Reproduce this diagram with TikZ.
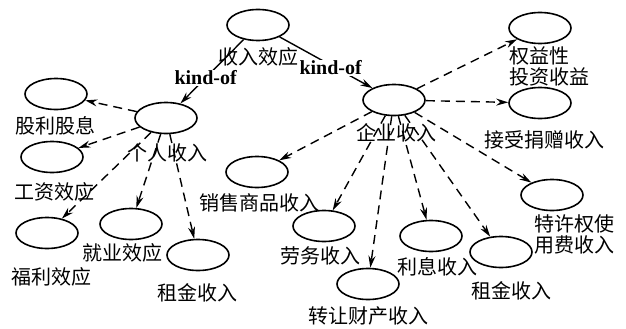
\documentclass[tikz,border=0pt]{standalone}
\usepackage{fontspec}
\setmainfont{Liberation Serif}
\newfontfamily\cjk{Noto Sans CJK SC}
\usetikzlibrary{shapes.geometric,arrows.meta}
\begin{document}
\begin{tikzpicture}[x=1pt,y=-1pt,
 oval/.style={draw,ellipse,line width=1.6pt,minimum width=62pt,minimum height=31pt,inner sep=0pt},
 lbl/.style={font=\cjk\fontsize{20}{21}\selectfont,inner sep=0pt,align=left},
 dedge/.style={line width=1.4pt,dash pattern=on 9pt off 6pt,-{Stealth[length=12pt,width=7pt]}},
 kedge/.style={line width=1.4pt,-{Stealth[length=12pt,width=7pt]}},
 kof/.style={font=\fontsize{20}{22}\selectfont\bfseries,fill=white,inner sep=0.5pt}]
\useasboundingbox (0,0) rectangle (626,329);
% ellipses
\node[oval] (top) at (258,25) {};
\node[oval] (p) at (166,118) {};
\node[oval] (a1) at (56,94) {};
\node[oval] (a2) at (52,157) {};
\node[oval] (a3) at (47,233) {};
\node[oval] (a4) at (131,224) {};
\node[oval] (a5) at (198,255) {};
\node[oval] (e) at (394,100) {};
\node[oval] (b1) at (540,28) {};
\node[oval] (b2) at (540,103) {};
\node[oval] (b3) at (257,172) {};
\node[oval] (b4) at (324,226) {};
\node[oval] (b5) at (368,284) {};
\node[oval] (b6) at (431,236) {};
\node[oval] (b7) at (501,252) {};
\node[oval] (b8) at (552,195) {};
% edges
\draw[kedge] (top) -- node[kof,pos=0.6] (k1) {kind-of} (p);
\draw[kedge] (top) -- node[kof,pos=0.55,yshift=-3pt] (k2) {kind-of} (e);
\foreach \t in {a1,a2,a3,a4,a5} \draw[dedge] (p) -- (\t);
\foreach \t in {b1,b2,b3,b4,b5,b6,b7,b8} \draw[dedge] (e) -- (\t);
% labels
\node[lbl] (topl) at (258,57) {收入效应};
\node[lbl] (pl) at (167,153) {个人收入};
\node[lbl] (a1l) at (56,126) {股利股息};
\node[lbl] (a2l) at (54,192) {工资效应};
\node[lbl] (a3l) at (51,277) {福利效应};
\node[lbl] (a4l) at (122,253) {就业效应};
\node[lbl] (a5l) at (197,293) {租金收入};
\node[lbl] (el) at (396,133) {企业收入};
\node[lbl,anchor=west] (b1l) at (509,66) {权益性\\投资收益};
\node[lbl] (b2l) at (544,140) {接受捐赠收入};
\node[lbl] (b3l) at (259,203) {销售商品收入};
\node[lbl] (b4l) at (320,256) {劳务收入};
\node[lbl] (b5l) at (368,316) {转让财产收入};
\node[lbl] (b6l) at (437,267) {利息收入};
\node[lbl] (b7l) at (511,291) {租金收入};
\node[lbl,anchor=west] (b8l) at (534,234) {特许权使\\用费收入};
\end{tikzpicture}
\end{document}
